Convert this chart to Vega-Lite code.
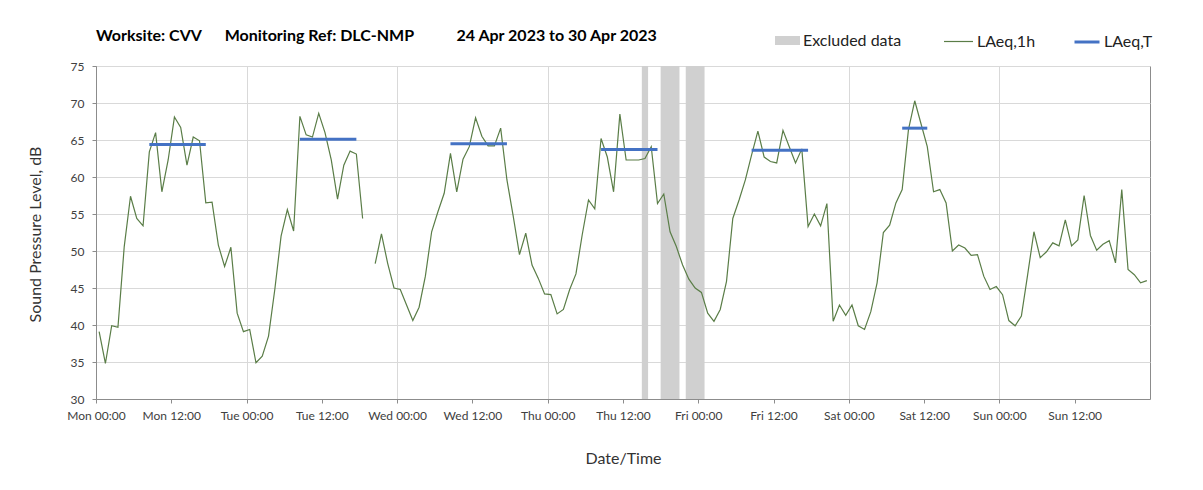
{
  "$schema": "https://vega.github.io/schema/vega-lite/v6.json",
  "width": 1054,
  "height": 333,
  "autosize": {"type": "none"},
  "padding": {"left": 96, "top": 66, "right": 53, "bottom": 91},
  "background": "white",
  "config": {
    "font": "Lato",
    "view": {"stroke": "#8c8c8c", "strokeWidth": 1},
    "axis": {
      "labelFont": "Lato",
      "labelFontSize": 12,
      "labelColor": "#404040",
      "titleFont": "Lato",
      "titleFontSize": 16,
      "titleFontWeight": "normal",
      "titleColor": "#333333",
      "domainColor": "#8c8c8c",
      "tickColor": "#8c8c8c",
      "gridColor": "#d9d9d9",
      "tickSize": 4
    },
    "legend": {
      "title": null,
      "orient": "none",
      "labelFont": "Lato",
      "labelFontSize": 16,
      "labelColor": "#222222",
      "labelOffset": 3,
      "padding": 0
    }
  },
  "title": {
    "text": "Worksite: CVV\u00a0\u00a0\u00a0\u00a0\u00a0\u00a0Monitoring Ref: DLC-NMP\u00a0\u00a0\u00a0\u00a0\u00a0\u00a0\u00a0\u00a0\u00a0\u00a0\u00a024 Apr 2023 to 30 Apr 2023",
    "anchor": "start",
    "frame": "group",
    "font": "Lato",
    "fontSize": 16,
    "fontWeight": "bold",
    "color": "#000000",
    "baseline": "alphabetic",
    "offset": 16,
    "dy": 47
  },
  "datasets": {
    "hourly": [
      {"t": "2023-04-24T00:30", "v": 39.1, "series": "LAeq,1h"},
      {"t": "2023-04-24T01:30", "v": 34.8, "series": "LAeq,1h"},
      {"t": "2023-04-24T02:30", "v": 39.9, "series": "LAeq,1h"},
      {"t": "2023-04-24T03:30", "v": 39.7, "series": "LAeq,1h"},
      {"t": "2023-04-24T04:30", "v": 50.6, "series": "LAeq,1h"},
      {"t": "2023-04-24T05:30", "v": 57.4, "series": "LAeq,1h"},
      {"t": "2023-04-24T06:30", "v": 54.4, "series": "LAeq,1h"},
      {"t": "2023-04-24T07:30", "v": 53.4, "series": "LAeq,1h"},
      {"t": "2023-04-24T08:30", "v": 63.4, "series": "LAeq,1h"},
      {"t": "2023-04-24T09:30", "v": 66.0, "series": "LAeq,1h"},
      {"t": "2023-04-24T10:30", "v": 58.0, "series": "LAeq,1h"},
      {"t": "2023-04-24T11:30", "v": 62.3, "series": "LAeq,1h"},
      {"t": "2023-04-24T12:30", "v": 68.1, "series": "LAeq,1h"},
      {"t": "2023-04-24T13:30", "v": 66.7, "series": "LAeq,1h"},
      {"t": "2023-04-24T14:30", "v": 61.6, "series": "LAeq,1h"},
      {"t": "2023-04-24T15:30", "v": 65.4, "series": "LAeq,1h"},
      {"t": "2023-04-24T16:30", "v": 64.9, "series": "LAeq,1h"},
      {"t": "2023-04-24T17:30", "v": 56.5, "series": "LAeq,1h"},
      {"t": "2023-04-24T18:30", "v": 56.6, "series": "LAeq,1h"},
      {"t": "2023-04-24T19:30", "v": 50.8, "series": "LAeq,1h"},
      {"t": "2023-04-24T20:30", "v": 47.9, "series": "LAeq,1h"},
      {"t": "2023-04-24T21:30", "v": 50.5, "series": "LAeq,1h"},
      {"t": "2023-04-24T22:30", "v": 41.6, "series": "LAeq,1h"},
      {"t": "2023-04-24T23:30", "v": 39.1, "series": "LAeq,1h"},
      {"t": "2023-04-25T00:30", "v": 39.4, "series": "LAeq,1h"},
      {"t": "2023-04-25T01:30", "v": 34.9, "series": "LAeq,1h"},
      {"t": "2023-04-25T02:30", "v": 35.8, "series": "LAeq,1h"},
      {"t": "2023-04-25T03:30", "v": 38.5, "series": "LAeq,1h"},
      {"t": "2023-04-25T04:30", "v": 44.8, "series": "LAeq,1h"},
      {"t": "2023-04-25T05:30", "v": 52.0, "series": "LAeq,1h"},
      {"t": "2023-04-25T06:30", "v": 55.6, "series": "LAeq,1h"},
      {"t": "2023-04-25T07:30", "v": 52.7, "series": "LAeq,1h"},
      {"t": "2023-04-25T08:30", "v": 68.2, "series": "LAeq,1h"},
      {"t": "2023-04-25T09:30", "v": 65.7, "series": "LAeq,1h"},
      {"t": "2023-04-25T10:30", "v": 65.4, "series": "LAeq,1h"},
      {"t": "2023-04-25T11:30", "v": 68.6, "series": "LAeq,1h"},
      {"t": "2023-04-25T12:30", "v": 66.0, "series": "LAeq,1h"},
      {"t": "2023-04-25T13:30", "v": 62.3, "series": "LAeq,1h"},
      {"t": "2023-04-25T14:30", "v": 57.0, "series": "LAeq,1h"},
      {"t": "2023-04-25T15:30", "v": 61.6, "series": "LAeq,1h"},
      {"t": "2023-04-25T16:30", "v": 63.5, "series": "LAeq,1h"},
      {"t": "2023-04-25T17:30", "v": 63.1, "series": "LAeq,1h"},
      {"t": "2023-04-25T18:30", "v": 54.4, "series": "LAeq,1h"},
      {"t": "2023-04-25T19:30", "v": null, "series": "LAeq,1h"},
      {"t": "2023-04-25T20:30", "v": 48.3, "series": "LAeq,1h"},
      {"t": "2023-04-25T21:30", "v": 52.3, "series": "LAeq,1h"},
      {"t": "2023-04-25T22:30", "v": 48.3, "series": "LAeq,1h"},
      {"t": "2023-04-25T23:30", "v": 45.0, "series": "LAeq,1h"},
      {"t": "2023-04-26T00:30", "v": 44.8, "series": "LAeq,1h"},
      {"t": "2023-04-26T01:30", "v": 42.7, "series": "LAeq,1h"},
      {"t": "2023-04-26T02:30", "v": 40.6, "series": "LAeq,1h"},
      {"t": "2023-04-26T03:30", "v": 42.4, "series": "LAeq,1h"},
      {"t": "2023-04-26T04:30", "v": 46.6, "series": "LAeq,1h"},
      {"t": "2023-04-26T05:30", "v": 52.6, "series": "LAeq,1h"},
      {"t": "2023-04-26T06:30", "v": 55.3, "series": "LAeq,1h"},
      {"t": "2023-04-26T07:30", "v": 57.8, "series": "LAeq,1h"},
      {"t": "2023-04-26T08:30", "v": 63.2, "series": "LAeq,1h"},
      {"t": "2023-04-26T09:30", "v": 58.0, "series": "LAeq,1h"},
      {"t": "2023-04-26T10:30", "v": 62.4, "series": "LAeq,1h"},
      {"t": "2023-04-26T11:30", "v": 64.1, "series": "LAeq,1h"},
      {"t": "2023-04-26T12:30", "v": 68.0, "series": "LAeq,1h"},
      {"t": "2023-04-26T13:30", "v": 65.5, "series": "LAeq,1h"},
      {"t": "2023-04-26T14:30", "v": 64.2, "series": "LAeq,1h"},
      {"t": "2023-04-26T15:30", "v": 64.2, "series": "LAeq,1h"},
      {"t": "2023-04-26T16:30", "v": 66.6, "series": "LAeq,1h"},
      {"t": "2023-04-26T17:30", "v": 59.6, "series": "LAeq,1h"},
      {"t": "2023-04-26T18:30", "v": 54.7, "series": "LAeq,1h"},
      {"t": "2023-04-26T19:30", "v": 49.5, "series": "LAeq,1h"},
      {"t": "2023-04-26T20:30", "v": 52.4, "series": "LAeq,1h"},
      {"t": "2023-04-26T21:30", "v": 48.1, "series": "LAeq,1h"},
      {"t": "2023-04-26T22:30", "v": 46.3, "series": "LAeq,1h"},
      {"t": "2023-04-26T23:30", "v": 44.2, "series": "LAeq,1h"},
      {"t": "2023-04-27T00:30", "v": 44.1, "series": "LAeq,1h"},
      {"t": "2023-04-27T01:30", "v": 41.5, "series": "LAeq,1h"},
      {"t": "2023-04-27T02:30", "v": 42.1, "series": "LAeq,1h"},
      {"t": "2023-04-27T03:30", "v": 44.8, "series": "LAeq,1h"},
      {"t": "2023-04-27T04:30", "v": 46.9, "series": "LAeq,1h"},
      {"t": "2023-04-27T05:30", "v": 52.2, "series": "LAeq,1h"},
      {"t": "2023-04-27T06:30", "v": 56.9, "series": "LAeq,1h"},
      {"t": "2023-04-27T07:30", "v": 55.7, "series": "LAeq,1h"},
      {"t": "2023-04-27T08:30", "v": 65.2, "series": "LAeq,1h"},
      {"t": "2023-04-27T09:30", "v": 62.7, "series": "LAeq,1h"},
      {"t": "2023-04-27T10:30", "v": 58.0, "series": "LAeq,1h"},
      {"t": "2023-04-27T11:30", "v": 68.5, "series": "LAeq,1h"},
      {"t": "2023-04-27T12:30", "v": 62.3, "series": "LAeq,1h"},
      {"t": "2023-04-27T13:30", "v": 62.3, "series": "LAeq,1h"},
      {"t": "2023-04-27T14:30", "v": 62.3, "series": "LAeq,1h"},
      {"t": "2023-04-27T15:30", "v": 62.5, "series": "LAeq,1h"},
      {"t": "2023-04-27T16:30", "v": 64.1, "series": "LAeq,1h"},
      {"t": "2023-04-27T17:30", "v": 56.4, "series": "LAeq,1h"},
      {"t": "2023-04-27T18:30", "v": 57.7, "series": "LAeq,1h"},
      {"t": "2023-04-27T19:30", "v": 52.6, "series": "LAeq,1h"},
      {"t": "2023-04-27T20:30", "v": 50.6, "series": "LAeq,1h"},
      {"t": "2023-04-27T21:30", "v": 48.1, "series": "LAeq,1h"},
      {"t": "2023-04-27T22:30", "v": 46.2, "series": "LAeq,1h"},
      {"t": "2023-04-27T23:30", "v": 45.0, "series": "LAeq,1h"},
      {"t": "2023-04-28T00:30", "v": 44.4, "series": "LAeq,1h"},
      {"t": "2023-04-28T01:30", "v": 41.6, "series": "LAeq,1h"},
      {"t": "2023-04-28T02:30", "v": 40.5, "series": "LAeq,1h"},
      {"t": "2023-04-28T03:30", "v": 42.1, "series": "LAeq,1h"},
      {"t": "2023-04-28T04:30", "v": 45.9, "series": "LAeq,1h"},
      {"t": "2023-04-28T05:30", "v": 54.4, "series": "LAeq,1h"},
      {"t": "2023-04-28T06:30", "v": 56.9, "series": "LAeq,1h"},
      {"t": "2023-04-28T07:30", "v": 59.6, "series": "LAeq,1h"},
      {"t": "2023-04-28T08:30", "v": 63.0, "series": "LAeq,1h"},
      {"t": "2023-04-28T09:30", "v": 66.2, "series": "LAeq,1h"},
      {"t": "2023-04-28T10:30", "v": 62.7, "series": "LAeq,1h"},
      {"t": "2023-04-28T11:30", "v": 62.1, "series": "LAeq,1h"},
      {"t": "2023-04-28T12:30", "v": 61.9, "series": "LAeq,1h"},
      {"t": "2023-04-28T13:30", "v": 66.3, "series": "LAeq,1h"},
      {"t": "2023-04-28T14:30", "v": 64.1, "series": "LAeq,1h"},
      {"t": "2023-04-28T15:30", "v": 61.9, "series": "LAeq,1h"},
      {"t": "2023-04-28T16:30", "v": 63.8, "series": "LAeq,1h"},
      {"t": "2023-04-28T17:30", "v": 53.3, "series": "LAeq,1h"},
      {"t": "2023-04-28T18:30", "v": 55.0, "series": "LAeq,1h"},
      {"t": "2023-04-28T19:30", "v": 53.4, "series": "LAeq,1h"},
      {"t": "2023-04-28T20:30", "v": 56.4, "series": "LAeq,1h"},
      {"t": "2023-04-28T21:30", "v": 40.5, "series": "LAeq,1h"},
      {"t": "2023-04-28T22:30", "v": 42.7, "series": "LAeq,1h"},
      {"t": "2023-04-28T23:30", "v": 41.3, "series": "LAeq,1h"},
      {"t": "2023-04-29T00:30", "v": 42.7, "series": "LAeq,1h"},
      {"t": "2023-04-29T01:30", "v": 39.9, "series": "LAeq,1h"},
      {"t": "2023-04-29T02:30", "v": 39.4, "series": "LAeq,1h"},
      {"t": "2023-04-29T03:30", "v": 41.8, "series": "LAeq,1h"},
      {"t": "2023-04-29T04:30", "v": 45.7, "series": "LAeq,1h"},
      {"t": "2023-04-29T05:30", "v": 52.5, "series": "LAeq,1h"},
      {"t": "2023-04-29T06:30", "v": 53.5, "series": "LAeq,1h"},
      {"t": "2023-04-29T07:30", "v": 56.5, "series": "LAeq,1h"},
      {"t": "2023-04-29T08:30", "v": 58.3, "series": "LAeq,1h"},
      {"t": "2023-04-29T09:30", "v": 66.4, "series": "LAeq,1h"},
      {"t": "2023-04-29T10:30", "v": 70.3, "series": "LAeq,1h"},
      {"t": "2023-04-29T11:30", "v": 67.2, "series": "LAeq,1h"},
      {"t": "2023-04-29T12:30", "v": 64.1, "series": "LAeq,1h"},
      {"t": "2023-04-29T13:30", "v": 58.0, "series": "LAeq,1h"},
      {"t": "2023-04-29T14:30", "v": 58.3, "series": "LAeq,1h"},
      {"t": "2023-04-29T15:30", "v": 56.5, "series": "LAeq,1h"},
      {"t": "2023-04-29T16:30", "v": 50.0, "series": "LAeq,1h"},
      {"t": "2023-04-29T17:30", "v": 50.8, "series": "LAeq,1h"},
      {"t": "2023-04-29T18:30", "v": 50.4, "series": "LAeq,1h"},
      {"t": "2023-04-29T19:30", "v": 49.4, "series": "LAeq,1h"},
      {"t": "2023-04-29T20:30", "v": 49.5, "series": "LAeq,1h"},
      {"t": "2023-04-29T21:30", "v": 46.6, "series": "LAeq,1h"},
      {"t": "2023-04-29T22:30", "v": 44.8, "series": "LAeq,1h"},
      {"t": "2023-04-29T23:30", "v": 45.2, "series": "LAeq,1h"},
      {"t": "2023-04-30T00:30", "v": 44.1, "series": "LAeq,1h"},
      {"t": "2023-04-30T01:30", "v": 40.6, "series": "LAeq,1h"},
      {"t": "2023-04-30T02:30", "v": 39.9, "series": "LAeq,1h"},
      {"t": "2023-04-30T03:30", "v": 41.2, "series": "LAeq,1h"},
      {"t": "2023-04-30T04:30", "v": 46.8, "series": "LAeq,1h"},
      {"t": "2023-04-30T05:30", "v": 52.6, "series": "LAeq,1h"},
      {"t": "2023-04-30T06:30", "v": 49.1, "series": "LAeq,1h"},
      {"t": "2023-04-30T07:30", "v": 49.9, "series": "LAeq,1h"},
      {"t": "2023-04-30T08:30", "v": 51.1, "series": "LAeq,1h"},
      {"t": "2023-04-30T09:30", "v": 50.7, "series": "LAeq,1h"},
      {"t": "2023-04-30T10:30", "v": 54.2, "series": "LAeq,1h"},
      {"t": "2023-04-30T11:30", "v": 50.7, "series": "LAeq,1h"},
      {"t": "2023-04-30T12:30", "v": 51.5, "series": "LAeq,1h"},
      {"t": "2023-04-30T13:30", "v": 57.5, "series": "LAeq,1h"},
      {"t": "2023-04-30T14:30", "v": 52.1, "series": "LAeq,1h"},
      {"t": "2023-04-30T15:30", "v": 50.1, "series": "LAeq,1h"},
      {"t": "2023-04-30T16:30", "v": 50.9, "series": "LAeq,1h"},
      {"t": "2023-04-30T17:30", "v": 51.4, "series": "LAeq,1h"},
      {"t": "2023-04-30T18:30", "v": 48.4, "series": "LAeq,1h"},
      {"t": "2023-04-30T19:30", "v": 58.3, "series": "LAeq,1h"},
      {"t": "2023-04-30T20:30", "v": 47.5, "series": "LAeq,1h"},
      {"t": "2023-04-30T21:30", "v": 46.8, "series": "LAeq,1h"},
      {"t": "2023-04-30T22:30", "v": 45.7, "series": "LAeq,1h"},
      {"t": "2023-04-30T23:30", "v": 46.0, "series": "LAeq,1h"}
    ],
    "laeqT": [
      {"s": "2023-04-24T08:30", "e": "2023-04-24T17:30", "v": 64.4, "series": "LAeq,T"},
      {"s": "2023-04-25T08:30", "e": "2023-04-25T17:30", "v": 65.1, "series": "LAeq,T"},
      {"s": "2023-04-26T08:30", "e": "2023-04-26T17:30", "v": 64.5, "series": "LAeq,T"},
      {"s": "2023-04-27T08:30", "e": "2023-04-27T17:30", "v": 63.7, "series": "LAeq,T"},
      {"s": "2023-04-28T08:30", "e": "2023-04-28T17:30", "v": 63.6, "series": "LAeq,T"},
      {"s": "2023-04-29T08:30", "e": "2023-04-29T12:30", "v": 66.6, "series": "LAeq,T"}
    ],
    "excluded": [
      {"s": "2023-04-27T15:00", "e": "2023-04-27T16:00", "series": "Excluded data"},
      {"s": "2023-04-27T18:00", "e": "2023-04-27T21:00", "series": "Excluded data"},
      {"s": "2023-04-27T22:00", "e": "2023-04-28T01:00", "series": "Excluded data"}
    ]
  },
  "layer": [
    {
      "data": {"name": "excluded"},
      "mark": {"type": "rect", "opacity": 1},
      "encoding": {
        "x": {
          "field": "s", "type": "temporal",
          "scale": {"domain": [{"year": 2023, "month": 4, "date": 24, "hours": 0}, {"year": 2023, "month": 5, "date": 1, "hours": 0}]},
          "axis": {
            "orient": "top", "grid": true, "labels": false, "ticks": false, "domain": false, "title": null,
            "values": [
              {"year": 2023, "month": 4, "date": 25, "hours": 0},
              {"year": 2023, "month": 4, "date": 26, "hours": 0},
              {"year": 2023, "month": 4, "date": 27, "hours": 0},
              {"year": 2023, "month": 4, "date": 28, "hours": 0},
              {"year": 2023, "month": 4, "date": 29, "hours": 0},
              {"year": 2023, "month": 4, "date": 30, "hours": 0}
            ]
          }
        },
        "x2": {"field": "e"},
        "color": {
          "field": "series", "type": "nominal",
          "scale": {"domain": ["Excluded data"], "range": ["#d0d0d0"]},
          "legend": {
            "legendX": 679,
            "legendY": -38,
            "symbolType": "M-1,-0.36H1V0.36H-1Z",
            "symbolSize": 625,
            "symbolStrokeWidth": 0
          }
        }
      }
    },
    {
      "data": {"name": "hourly"},
      "mark": {"type": "line", "strokeWidth": 1.2, "invalid": "break-paths-show-domains"},
      "encoding": {
        "x": {
          "field": "t", "type": "temporal",
          "axis": {
            "orient": "bottom", "grid": false, "format": "%a %H:%M", "labelFlush": false, "labelOverlap": false,
            "labelPadding": 7, "title": "Date/Time", "titleY": 59, "titleBaseline": "middle",
            "values": [
              {"year": 2023, "month": 4, "date": 24, "hours": 0},
              {"year": 2023, "month": 4, "date": 24, "hours": 12},
              {"year": 2023, "month": 4, "date": 25, "hours": 0},
              {"year": 2023, "month": 4, "date": 25, "hours": 12},
              {"year": 2023, "month": 4, "date": 26, "hours": 0},
              {"year": 2023, "month": 4, "date": 26, "hours": 12},
              {"year": 2023, "month": 4, "date": 27, "hours": 0},
              {"year": 2023, "month": 4, "date": 27, "hours": 12},
              {"year": 2023, "month": 4, "date": 28, "hours": 0},
              {"year": 2023, "month": 4, "date": 28, "hours": 12},
              {"year": 2023, "month": 4, "date": 29, "hours": 0},
              {"year": 2023, "month": 4, "date": 29, "hours": 12},
              {"year": 2023, "month": 4, "date": 30, "hours": 0},
              {"year": 2023, "month": 4, "date": 30, "hours": 12}
            ]
          }
        },
        "y": {
          "field": "v", "type": "quantitative",
          "scale": {"domain": [30, 75], "nice": false, "zero": false},
          "axis": {
            "values": [30, 35, 40, 45, 50, 55, 60, 65, 70, 75],
            "grid": true,
            "labelOverlap": false,
            "labelPadding": 8,
            "title": "Sound Pressure Level, dB",
            "titleX": -61,
            "titleY": 168,
            "titleAngle": -90,
            "titleBaseline": "middle",
            "titleAlign": "center"
          }
        },
        "color": {
          "field": "series", "type": "nominal",
          "scale": {"domain": ["LAeq,1h"], "range": ["#5a7d47"]},
          "legend": {
            "legendX": 847,
            "legendY": -40,
            "symbolType": "stroke",
            "symbolSize": 841,
            "symbolStrokeWidth": 1.2
          }
        }
      }
    },
    {
      "data": {"name": "laeqT"},
      "mark": {"type": "rule", "strokeWidth": 3},
      "encoding": {
        "x": {"field": "s", "type": "temporal", "axis": null},
        "x2": {"field": "e"},
        "y": {
          "field": "v", "type": "quantitative",
          "axis": {
            "values": [30, 35, 40, 45, 50, 55, 60, 65, 70, 75],
            "grid": true,
            "labelOverlap": false,
            "labelPadding": 8,
            "title": "Sound Pressure Level, dB",
            "titleX": -61,
            "titleY": 168,
            "titleAngle": -90,
            "titleBaseline": "middle",
            "titleAlign": "center"
          }
        },
        "color": {
          "field": "series", "type": "nominal",
          "scale": {"domain": ["LAeq,T"], "range": ["#4472c4"]},
          "legend": {
            "legendX": 977,
            "legendY": -38,
            "symbolType": "stroke",
            "symbolSize": 625,
            "symbolStrokeWidth": 3
          }
        }
      }
    }
  ],
  "resolve": {"axis": {"x": "independent"}, "scale": {"color": "independent"}, "legend": {"color": "independent"}}
}
